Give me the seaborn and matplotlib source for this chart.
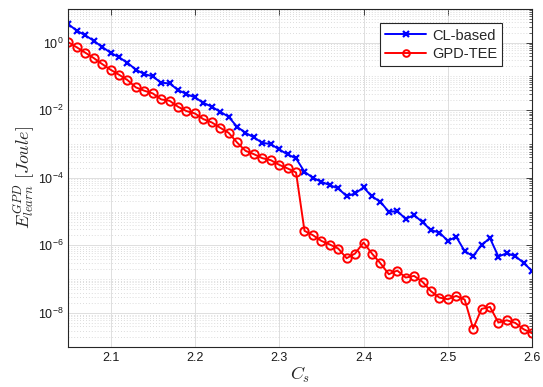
import numpy as np
import pandas as pd
import matplotlib
matplotlib.use("Agg")
import matplotlib.pyplot as plt
import matplotlib.ticker as mticker
import seaborn as sns

# Capacity values C_s (2.05 .. 2.60, step 0.01)
cs = [round(2.05 + 0.01 * i, 2) for i in range(56)]

# log10 of learning energy [Joule]
cl_based_log = [
    0.543, 0.356, 0.217, 0.059, -0.128, -0.296, -0.435, -0.593, -0.800, -0.928,
    -0.998, -1.185, -1.205, -1.402, -1.521, -1.620, -1.778, -1.896, -2.044, -2.193,
    -2.489, -2.667, -2.805, -2.963, -3.002, -3.160, -3.309, -3.427, -3.821, -3.999,
    -4.118, -4.216, -4.315, -4.542, -4.463, -4.285, -4.550, -4.710, -5.006, -4.987,
    -5.214, -5.105, -5.313, -5.549, -5.619, -5.866, -5.747, -6.172, -6.320, -5.984,
    -5.787, -6.330, -6.231, -6.320, -6.517, -6.764,
]
gpd_tee_log = [
    0.010, -0.138, -0.296, -0.454, -0.632, -0.800, -0.948, -1.106, -1.323, -1.422,
    -1.501, -1.679, -1.719, -1.896, -2.025, -2.094, -2.262, -2.360, -2.518, -2.667,
    -2.953, -3.200, -3.300, -3.418, -3.477, -3.615, -3.723, -3.842, -5.569, -5.698,
    -5.866, -5.974, -6.093, -6.379, -6.241, -5.915, -6.241, -6.527, -6.853, -6.745,
    -6.952, -6.903, -7.080, -7.357, -7.545, -7.594, -7.495, -7.604, -8.463, -7.880,
    -7.821, -8.285, -8.216, -8.295, -8.483, -8.601,
]

series_names = ["CL-based", "GPD-TEE"]
series_colors = ["#0000FF", "#FF0000"]

x_ticks = [2.1, 2.2, 2.3, 2.4, 2.5, 2.6]
y_ticks = [1e0, 1e-2, 1e-4, 1e-6, 1e-8]

df = pd.DataFrame({
    "Cs": cs * 2,
    "E": list(10.0 ** np.array(cl_based_log)) + list(10.0 ** np.array(gpd_tee_log)),
    "method": [series_names[0]] * len(cs) + [series_names[1]] * len(cs),
})

sns.set_style("white")
plt.rcParams["font.family"] = ["Liberation Sans", "DejaVu Sans"]
plt.rcParams["mathtext.fontset"] = "cm"

fig = plt.figure(figsize=(5.43, 3.87), dpi=100)
ax = fig.add_axes([0.126, 0.104, 0.854, 0.873])

sns.lineplot(data=df[df.method == series_names[0]], x="Cs", y="E", ax=ax,
             color=series_colors[0], marker="x", markersize=5,
             markeredgecolor=series_colors[0], markeredgewidth=1.6,
             linewidth=1.4, label=series_names[0])
sns.lineplot(data=df[df.method == series_names[1]], x="Cs", y="E", ax=ax,
             color=series_colors[1], marker="o", markersize=6, markerfacecolor="none",
             markeredgecolor=series_colors[1], markeredgewidth=1.4,
             linewidth=1.4, label=series_names[1])

ax.set_yscale("log")
ax.set_xlim(2.05, 2.6)
ax.set_ylim(1e-9, 1e1)

ax.set_xticks(x_ticks)
ax.set_xticklabels([f"{t:.1f}" for t in x_ticks])
ax.yaxis.set_major_locator(mticker.FixedLocator(y_ticks))
ax.yaxis.set_major_formatter(mticker.LogFormatterSciNotation())
ax.yaxis.set_minor_locator(mticker.LogLocator(base=10, subs=np.arange(1, 10), numticks=30))
ax.yaxis.set_minor_formatter(mticker.NullFormatter())
ax.xaxis.set_minor_locator(mticker.NullLocator())

ax.tick_params(axis="both", which="both", direction="in", top=True, right=True,
               colors="#262626", labelcolor="#1a1a1a")
ax.tick_params(axis="both", which="major", length=4, width=0.6, labelsize=9)
ax.tick_params(axis="y", which="minor", length=2.2, width=0.5)

ax.grid(True, which="major", color="#DFDFDF", linewidth=0.7, linestyle="-")
ax.grid(True, which="minor", axis="y", color="#D0D0D0", linewidth=0.6, linestyle=(0, (1, 2.5)))
ax.set_axisbelow(True)

for spine in ax.spines.values():
    spine.set_color("#262626")
    spine.set_linewidth(0.8)

ax.set_xlabel(r"$C_s$", fontsize=13, labelpad=1)
ax.set_ylabel(r"$E_{learn}^{GPD}\ [Joule]$", fontsize=13, labelpad=1)

leg = ax.legend(loc="upper right", bbox_to_anchor=(0.945, 0.97), fontsize=10.5,
                frameon=True, fancybox=False, edgecolor="#262626", framealpha=1,
                handlelength=2.8, handletextpad=0.4, borderpad=0.35, labelspacing=0.3,
                borderaxespad=0.3, markerscale=0.8)
leg.get_frame().set_linewidth(0.8)

fig.savefig("out.png", dpi=100)
